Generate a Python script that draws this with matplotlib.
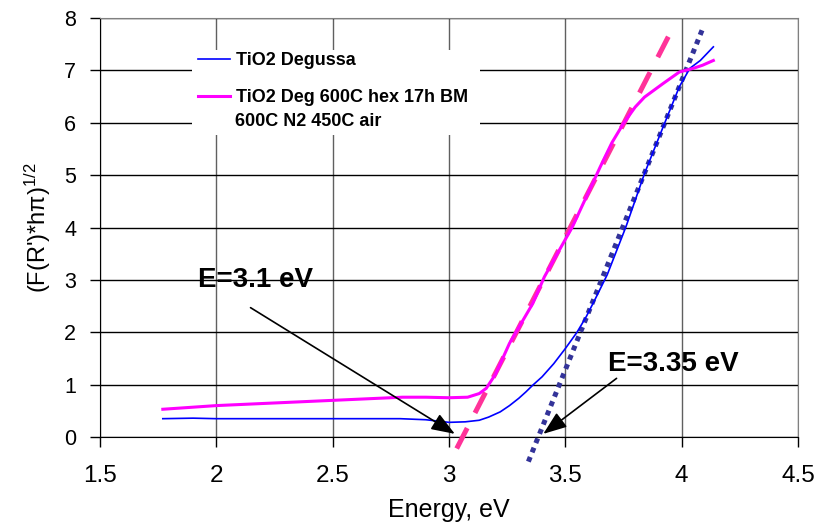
import matplotlib.pyplot as plt
from matplotlib.patches import Rectangle

plt.rcParams['font.family'] = ['Liberation Sans', 'DejaVu Sans']
plt.rcParams['mathtext.fontset'] = 'custom'
plt.rcParams['mathtext.rm'] = 'Liberation Sans'
plt.rcParams['mathtext.it'] = 'Liberation Sans:italic'

# TiO2 Degussa
deg_x = [1.77, 1.9, 2.0, 2.2, 2.4, 2.6, 2.79, 2.9, 3.0, 3.07, 3.13, 3.17, 3.22, 3.26, 3.3,
         3.33, 3.36, 3.40, 3.45, 3.5, 3.55, 3.59, 3.63, 3.68, 3.76, 3.84, 3.92, 3.99,
         4.035, 4.08, 4.136]
deg_y = [0.35, 0.36, 0.35, 0.35, 0.35, 0.35, 0.35, 0.33, 0.28, 0.29, 0.32, 0.38, 0.48, 0.6, 0.74,
         0.86, 0.99, 1.15, 1.4, 1.69, 2.0, 2.3, 2.65, 3.1, 4.01, 5.03, 5.92, 6.69,
         7.04, 7.19, 7.45]

# TiO2 Deg 600C hex 17h BM 600C N2 450C air
bm_x = [1.77, 2.0, 2.2, 2.5, 2.8, 2.9, 3.0, 3.08, 3.13, 3.16, 3.2, 3.26, 3.36, 3.41, 3.45,
        3.53, 3.65, 3.7, 3.75, 3.8, 3.84, 3.92, 3.99, 4.05, 4.09, 4.136]
bm_y = [0.53, 0.6, 0.64, 0.7, 0.76, 0.76, 0.75, 0.76, 0.83, 0.93, 1.2, 1.79, 2.55, 3.06, 3.38,
        4.01, 5.16, 5.62, 5.99, 6.3, 6.49, 6.75, 6.97, 7.04, 7.1, 7.19]

# band gap tangent lines
tan1_x = [3.033, 3.964]
tan1_y = [-0.22, 7.83]
tan2_x = [3.341, 4.093]
tan2_y = [-0.47, 7.83]

fig = plt.figure(figsize=(8.27, 5.31), dpi=100)
ax = fig.add_axes([0.1209, 0.177, 0.8441, 0.789])

ax.plot(tan1_x, tan1_y, color='#ff3399', lw=3.6, dashes=(4.6, 3.4), clip_on=False, zorder=3)
ax.plot(tan2_x, tan2_y, color='#333399', lw=3.6, dashes=(1, 1), clip_on=False, zorder=3)
ax.plot(deg_x, deg_y, color='#0000ff', lw=1.2, label='TiO2 Degussa', zorder=4)
ax.plot(bm_x, bm_y, color='#ff00ff', lw=2.2, label='TiO2 Deg 600C hex 17h BM', zorder=4)

# annotations
arrow = dict(arrowstyle='-|>,head_length=0.8,head_width=0.3', color='black',
             lw=1.2, mutation_scale=18, shrinkA=0, shrinkB=0)
ax.text(2.17, 3.0, 'E=3.1 eV', fontsize=20, fontweight='bold', ha='center', va='center', zorder=5)
ax.annotate('', xy=(3.025, 0.06), xytext=(2.147, 2.47), arrowprops=arrow, zorder=5)
ax.text(3.963, 1.39, 'E=3.35 eV', fontsize=20, fontweight='bold', ha='center', va='center', zorder=5)
ax.annotate('', xy=(3.405, 0.06), xytext=(3.72, 1.12), arrowprops=arrow, zorder=5)

ax.set_xlim(1.5, 4.5)
ax.set_ylim(0, 8)
ax.set_xticks([1.5, 2, 2.5, 3, 3.5, 4, 4.5])
ax.set_xticklabels(['1.5', '2', '2.5', '3', '3.5', '4', '4.5'])
ax.set_yticks(range(9))
ax.tick_params(direction='out', length=7, width=1)
ax.tick_params(axis='x', labelsize=17.5, pad=13)
ax.tick_params(axis='y', labelsize=15.5, pad=10)

ax.grid(axis='y', color='black', lw=1)
ax.grid(axis='x', color='#606060', lw=1)
ax.set_axisbelow(True)
ax.spines['left'].set_color('black')
ax.spines['bottom'].set_color('black')
ax.spines['right'].set_color('#808080')
ax.spines['top'].set_color('#808080')

ax.set_xlabel('Energy, eV', fontsize=18, labelpad=8)
ax.set_ylabel(r"(F(R')*hπ)$^{1/2}$", fontsize=17, labelpad=8)

# legend: white box, two entries, second label wraps onto a second line
ax.add_patch(Rectangle((0.132, 0.721), 0.412, 0.203, transform=ax.transAxes,
                       facecolor='white', edgecolor='none', zorder=2.5))
leg = ax.legend(loc='upper left', bbox_to_anchor=(0.1404, 0.918), frameon=False,
                prop={'weight': 'bold', 'size': 13}, handlelength=1.8,
                handletextpad=0.3, labelspacing=1.1, borderpad=0, borderaxespad=0)
ax.text(0.1934, 0.752, '600C N2 450C air', transform=ax.transAxes, fontsize=13,
        fontweight='bold', ha='left', va='center', zorder=6)

fig.savefig('out.png', dpi=100)
